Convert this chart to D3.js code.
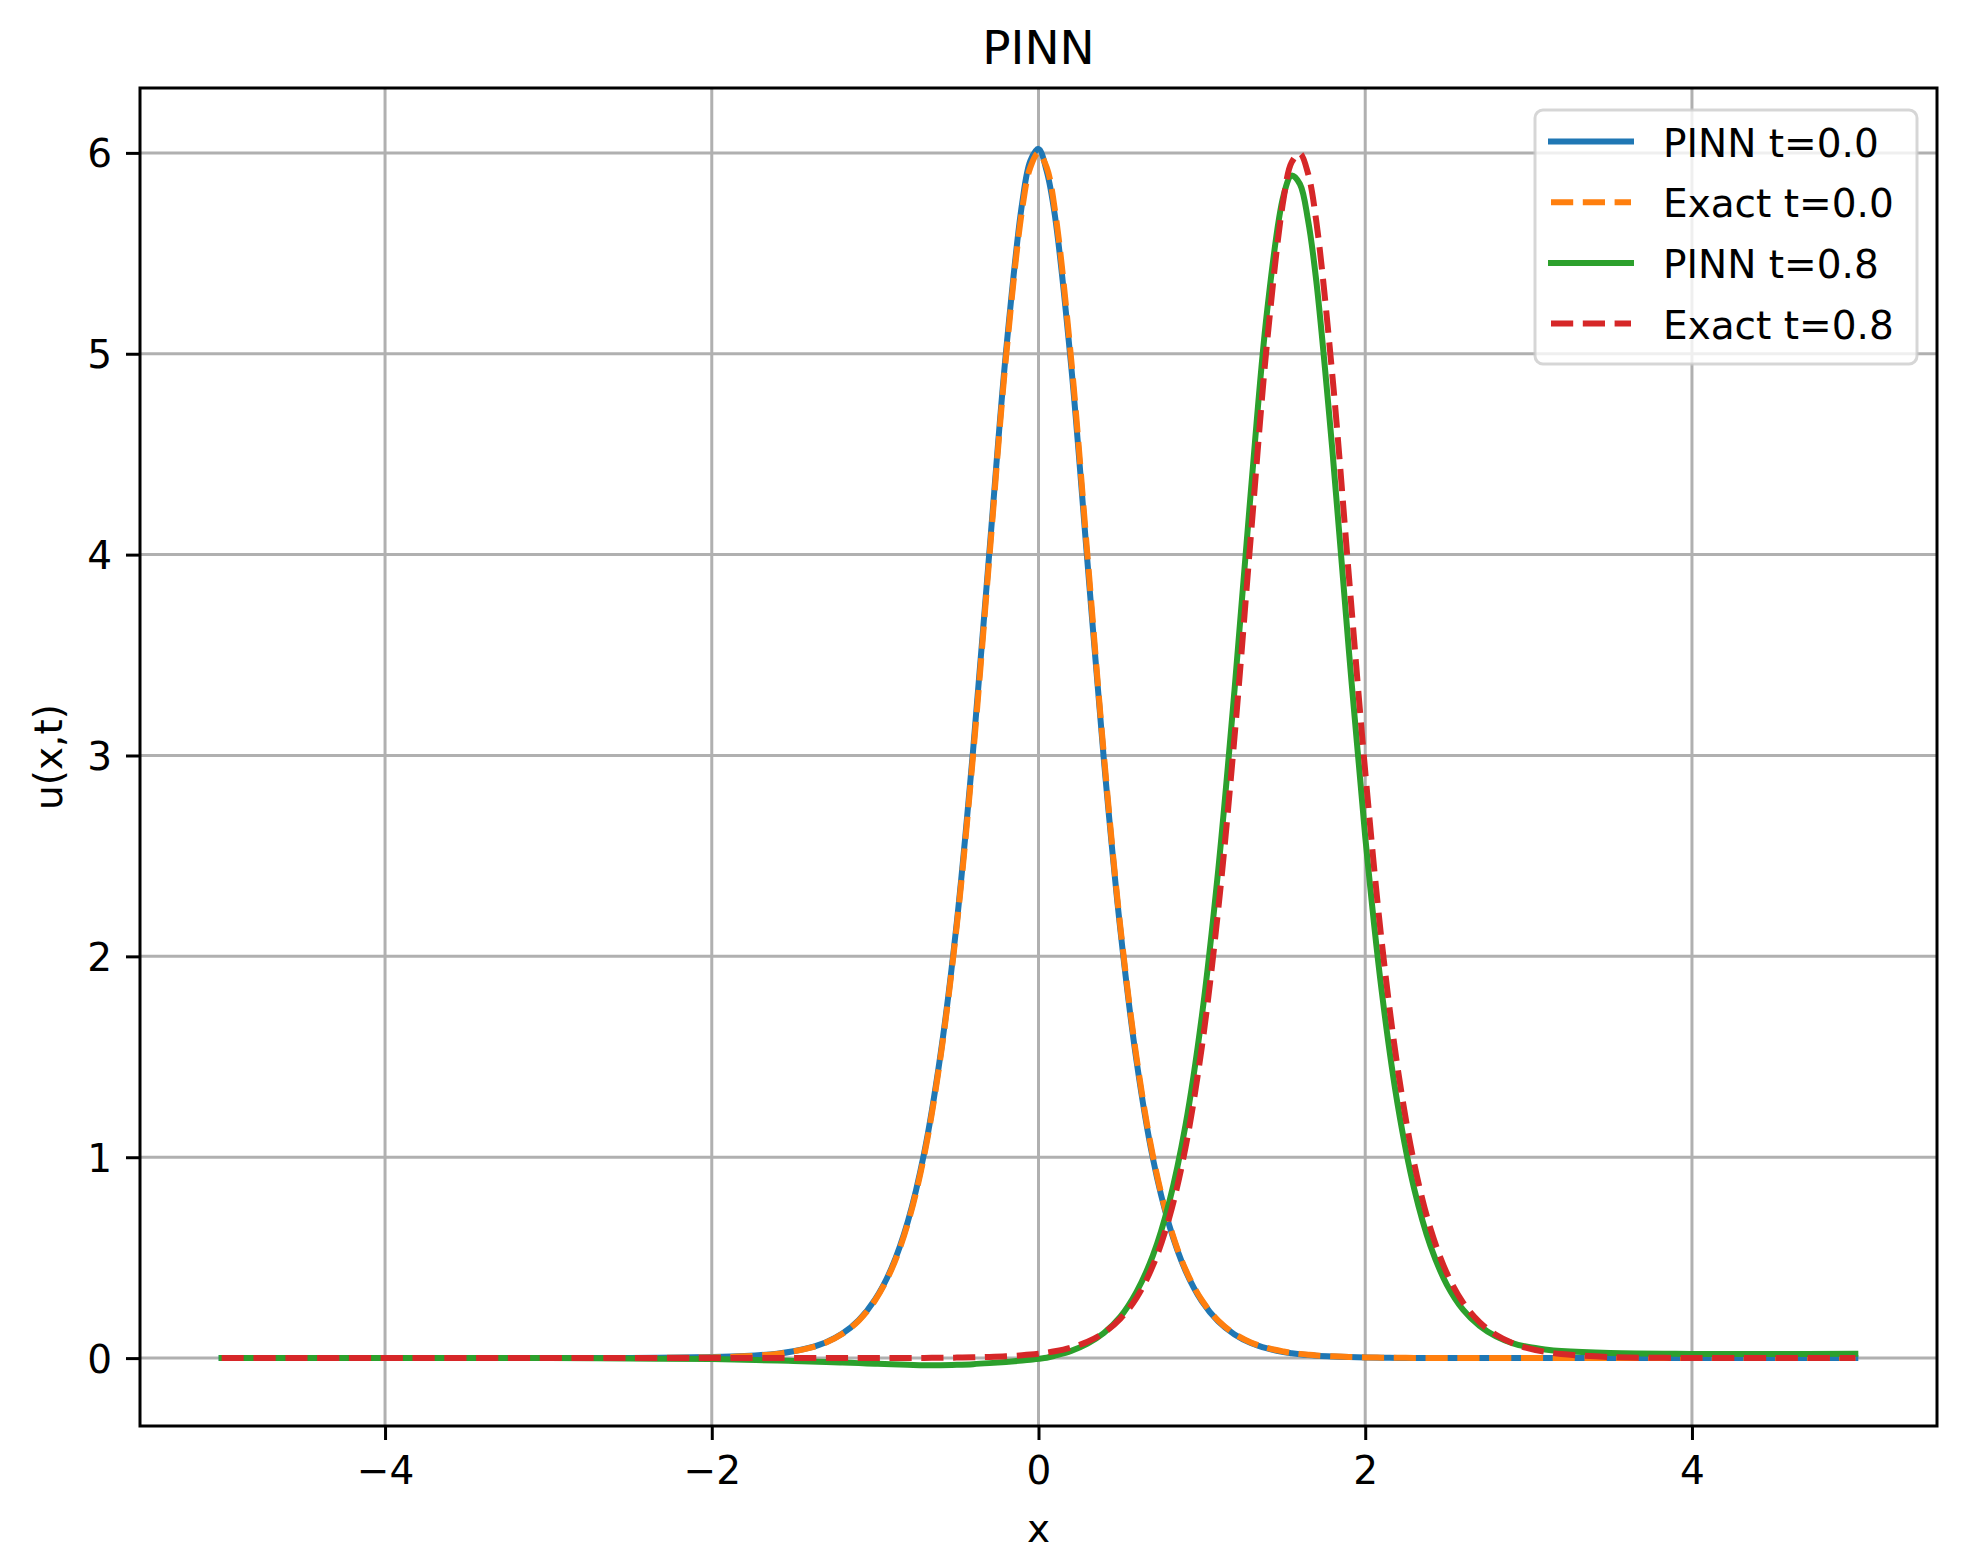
<!DOCTYPE html>
<html>
<head>
<meta charset="utf-8">
<script src="https://cdn.jsdelivr.net/npm/d3@7"></script>
<style>
  html, body { margin: 0; padding: 0; background: #ffffff; }
  svg { display: block; }
  text { font-family: "DejaVu Sans", sans-serif; fill: #000; }
</style>
</head>
<body>
<div id="chart"></div>
<script>
// ---------------- data ----------------
const chartTitle = "PINN";
const xLabel = "x";
const yLabel = "u(x,t)";
const xTicks = [-4, -2, 0, 2, 4];
const yTicks = [0, 1, 2, 3, 4, 5, 6];
const seriesNames = ["PINN t=0.0", "Exact t=0.0", "PINN t=0.8", "Exact t=0.8"];

const xs = [-5, -4.5, -4, -3.5, -3, -2.5, -2, -1.8, -1.6,
  -1.5, -1.4, -1.3, -1.2, -1.1, -1.0, -0.9, -0.8, -0.7, -0.6, -0.5, -0.4, -0.3, -0.2, -0.1,
  -0.05, 0, 0.05,
  0.1, 0.2, 0.3, 0.4, 0.5, 0.6, 0.7, 0.8, 0.9, 1.0, 1.1, 1.2, 1.3, 1.4, 1.5,
  1.55, 1.6, 1.65,
  1.7, 1.8, 1.9, 2.0, 2.1, 2.2, 2.3, 2.4, 2.5, 2.6, 2.7, 2.8, 2.9, 3.0, 3.1, 3.2,
  3.5, 4, 4.5, 5];

const pinnT0 = [0, 0, 0, 0, 0, 0.001, 0.005, 0.010, 0.022,
  0.034, 0.052, 0.079, 0.122, 0.189, 0.292, 0.447, 0.679, 1.02, 1.51, 2.17, 3.03, 4.02, 5.00, 5.75,
  5.96, 6.02, 5.91,
  5.69, 4.94, 3.96, 2.98, 2.14, 1.48, 0.995, 0.662, 0.435, 0.283, 0.183, 0.118, 0.075, 0.048, 0.030,
  0.024, 0.019, 0.015,
  0.012, 0.008, 0.005, 0.003, 0.002, 0.001, 0, 0, 0, 0, 0, 0, 0, 0, 0, 0,
  0, 0, 0, 0];

const exactT0 = [0, 0, 0, 0, 0.0001, 0.0004, 0.0036, 0.0087, 0.021,
  0.033, 0.051, 0.078, 0.121, 0.187, 0.288, 0.441, 0.670, 1.008, 1.497, 2.155, 3.005, 3.993, 4.973, 5.719,
  5.928, 6.0, 5.928,
  5.719, 4.973, 3.993, 3.005, 2.155, 1.497, 1.008, 0.670, 0.441, 0.288, 0.187, 0.121, 0.078, 0.051, 0.033,
  0.026, 0.021, 0.017,
  0.0135, 0.0087, 0.0056, 0.0036, 0.0023, 0.0015, 0.001, 0.0006, 0.0004, 0.0003, 0.0002, 0.0001, 0.0001, 0.0001, 0, 0,
  0, 0, 0, 0];

const pinnT08 = [0, 0, 0, 0, 0, -0.002, -0.005, -0.008, -0.012,
  -0.014, -0.017, -0.019, -0.022, -0.025, -0.028, -0.031, -0.033, -0.035, -0.035, -0.033, -0.030, -0.025, -0.019, -0.012,
  -0.008, -0.003, 0.002,
  0.012, 0.036, 0.072, 0.125, 0.205, 0.330, 0.510, 0.776, 1.160, 1.703, 2.429, 3.327, 4.317, 5.217, 5.788,
  5.887, 5.845, 5.665,
  5.365, 4.509, 3.522, 2.596, 1.833, 1.255, 0.842, 0.557, 0.365, 0.240, 0.160, 0.108, 0.075, 0.055, 0.043, 0.035,
  0.025, 0.021, 0.020, 0.022];

const exactT08 = [0, 0, 0, 0, 0, 0, 0, 0, 0,
  0.0001, 0.0001, 0.0001, 0.0001, 0.0002, 0.0003, 0.0004, 0.0007, 0.001, 0.0016, 0.0024, 0.0038, 0.0059, 0.0091, 0.0141,
  0.0175, 0.022, 0.0274,
  0.0341, 0.053, 0.0817, 0.126, 0.195, 0.300, 0.460, 0.698, 1.049, 1.550, 2.232, 3.093, 4.094, 5.063, 5.771,
  5.954, 5.997, 5.897,
  5.662, 4.882, 3.893, 2.920, 2.080, 1.436, 0.968, 0.643, 0.422, 0.275, 0.179, 0.116, 0.0749, 0.0485, 0.0313, 0.0201,
  0.0054, 0.0006, 0.0001, 0];

const seriesColors = ["#1f77b4", "#ff7f0e", "#2ca02c", "#d62728"];
const seriesDashed = [false, true, false, true];
const seriesValues = [pinnT0, exactT0, pinnT08, exactT08];

// ---------------- layout ----------------
const W = 1979, H = 1553;
const ax = { left: 140, right: 1937, top: 88, bottom: 1426 };
const fs = 39;            // 10pt
const titleFs = 47;       // 12pt
const lw = 6;             // 1.5pt
const spineW = 3;
const gridW = 3;
const tickLen = 14, tickPad = 14;
const dash = "22.2,9.6";

const svg = d3.select("#chart").append("svg")
  .attr("width", W).attr("height", H)
  .attr("viewBox", `0 0 ${W} ${H}`);
svg.append("rect").attr("width", W).attr("height", H).attr("fill", "#fff");

const x = d3.scaleLinear().domain([-5.5, 5.5]).range([ax.left, ax.right]);
const y = d3.scaleLinear().domain([-0.338, 6.323]).range([ax.bottom, ax.top]);

svg.append("defs").append("clipPath").attr("id", "clip")
  .append("rect").attr("x", ax.left).attr("y", ax.top)
  .attr("width", ax.right - ax.left).attr("height", ax.bottom - ax.top);

// grid
const grid = svg.append("g").attr("class", "grid");
grid.selectAll("line.gx").data(xTicks).enter().append("line")
  .attr("x1", d => x(d)).attr("x2", d => x(d))
  .attr("y1", ax.top).attr("y2", ax.bottom)
  .attr("stroke", "#b0b0b0").attr("stroke-width", gridW);
grid.selectAll("line.gy").data(yTicks).enter().append("line")
  .attr("x1", ax.left).attr("x2", ax.right)
  .attr("y1", d => y(d)).attr("y2", d => y(d))
  .attr("stroke", "#b0b0b0").attr("stroke-width", gridW);

// lines
const line = d3.line()
  .x(d => x(d[0])).y(d => y(d[1]))
  .curve(d3.curveCatmullRom.alpha(0.5));
const plot = svg.append("g").attr("clip-path", "url(#clip)");
seriesValues.forEach((vals, i) => {
  const pts = xs.map((xv, j) => [xv, vals[j]]);
  plot.append("path")
    .attr("d", line(pts))
    .attr("fill", "none")
    .attr("stroke", seriesColors[i])
    .attr("stroke-width", lw)
    .attr("stroke-linejoin", "round")
    .attr("stroke-linecap", seriesDashed[i] ? "butt" : "square")
    .attr("stroke-dasharray", seriesDashed[i] ? dash : null);
});

// axes (spines + ticks + labels) using d3 axes
const fmt = d => (d < 0 ? "\u2212" + Math.abs(d) : String(d));
const xAxis = d3.axisBottom(x).tickValues(xTicks).tickFormat(fmt)
  .tickSize(tickLen).tickPadding(tickPad);
const yAxis = d3.axisLeft(y).tickValues(yTicks).tickFormat(fmt)
  .tickSize(tickLen).tickPadding(tickPad);

const gx = svg.append("g").attr("transform", `translate(0,${ax.bottom})`).call(xAxis);
const gy = svg.append("g").attr("transform", `translate(${ax.left},0)`).call(yAxis);
[gx, gy].forEach(g => {
  g.select(".domain").remove();
  g.selectAll(".tick line").attr("stroke", "#000").attr("stroke-width", spineW);
  g.selectAll(".tick text").attr("font-size", fs).attr("font-family", "DejaVu Sans").attr("fill", "#000");
});
gx.selectAll(".tick text").attr("dy", null).attr("y", tickLen + tickPad + 30);
gy.selectAll(".tick text").attr("dy", null).attr("x", -(tickLen + tickPad)).attr("y", 14);

// spines
svg.append("rect")
  .attr("x", ax.left).attr("y", ax.top)
  .attr("width", ax.right - ax.left).attr("height", ax.bottom - ax.top)
  .attr("fill", "none").attr("stroke", "#000").attr("stroke-width", spineW);

// title & labels
svg.append("text").attr("x", (ax.left + ax.right) / 2).attr("y", 64)
  .attr("text-anchor", "middle").attr("font-size", titleFs).text(chartTitle);
svg.append("text").attr("x", (ax.left + ax.right) / 2).attr("y", 1542)
  .attr("text-anchor", "middle").attr("font-size", fs).text(xLabel);
svg.append("text")
  .attr("transform", `translate(62,${(ax.top + ax.bottom) / 2}) rotate(-90)`)
  .attr("text-anchor", "middle").attr("font-size", fs).text(yLabel);

// legend
const lg = { x0: 1535, x1: 1917, y0: 110, y1: 364 };
const leg = svg.append("g");
leg.append("rect")
  .attr("x", lg.x0).attr("y", lg.y0)
  .attr("width", lg.x1 - lg.x0).attr("height", lg.y1 - lg.y0)
  .attr("rx", 8).attr("ry", 8)
  .attr("fill", "#ffffff").attr("fill-opacity", 0.8)
  .attr("stroke", "#cccccc").attr("stroke-opacity", 0.8).attr("stroke-width", 3);
seriesNames.forEach((name, i) => {
  const cy = 141.5 + i * 60.7;
  leg.append("line")
    .attr("x1", 1551).attr("x2", 1631)
    .attr("y1", cy).attr("y2", cy)
    .attr("stroke", seriesColors[i]).attr("stroke-width", lw)
    .attr("stroke-linecap", seriesDashed[i] ? "butt" : "square")
    .attr("stroke-dasharray", seriesDashed[i] ? dash : null);
  leg.append("text").attr("x", 1663).attr("y", cy + 15)
    .attr("font-size", fs).text(name);
});
</script>
</body>
</html>
